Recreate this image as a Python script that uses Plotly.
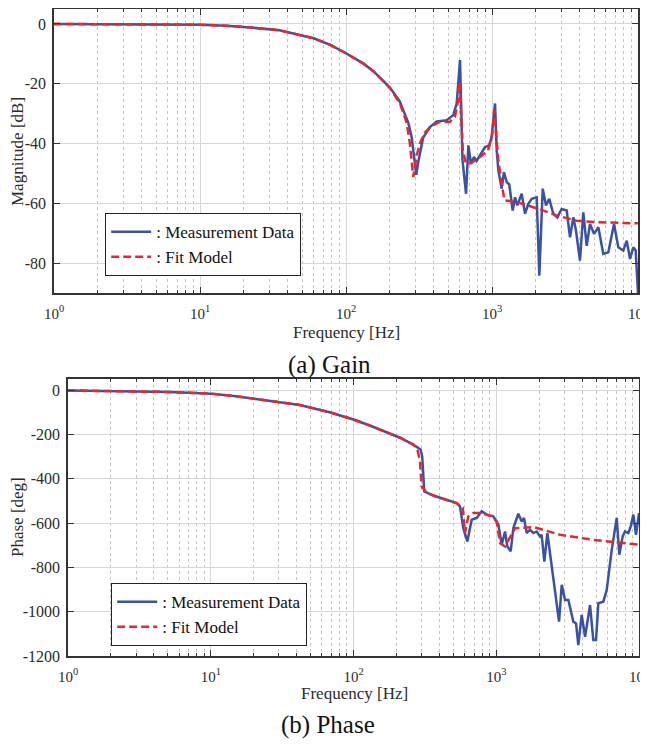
import plotly.graph_objects as go

# page is 648x744; the browser body has an 8px margin, so the figure itself is 640x736
PAGE_W, PAGE_H = 648, 744
OFF = 8
W, H = PAGE_W - OFF, PAGE_H - OFF

# ---------------- data ----------------
freq_mag_meas = [1, 2, 3, 5, 7, 10, 15, 20, 35, 60, 78, 100, 131, 154, 200, 234, 247, 267, 282, 295, 303,
                 313, 330, 338, 376, 418, 489, 543, 573, 590, 604, 615, 628, 664, 689, 718, 753, 785, 836,
                 895, 959, 995, 1049, 1077, 1105, 1165, 1208, 1261, 1313, 1386, 1438, 1490, 1597, 1683,
                 1773, 1872, 2024, 2109, 2225, 2344, 2468, 2630, 2800, 3001, 3248, 3422, 3605, 3760, 4005,
                 4220, 4453, 4691, 5000, 5350, 5786, 6263, 6852, 7334, 7930, 8370, 8816, 9290, 9640, 10000]
mag_meas = [0, -0.02, -0.05, -0.1, -0.15, -0.25, -0.6, -1.0, -2.1, -4.8, -7.0, -9.8, -13.2, -15.8, -21.3,
            -26.0, -28.9, -33.0, -38.0, -45.0, -50.5, -46.0, -39.5, -38.0, -34.5, -32.6, -32.2, -30.5,
            -26.6, -20.0, -12.1, -27.7, -45.6, -56.8, -40.6, -46.8, -44.5, -45.8, -43.4, -41.2, -40.6,
            -37.8, -26.6, -42.3, -49.0, -55.1, -49.6, -52.9, -53.7, -62.4, -58.0, -60.7, -56.8, -63.5,
            -60.2, -58.5, -58.0, -84.2, -55.1, -60.7, -58.5, -63.5, -64.7, -61.9, -62.4, -71.4, -64.7,
            -69.1, -79.2, -63.0, -74.2, -66.9, -70.2, -68.0, -76.9, -76.4, -66.9, -74.7, -75.8, -72.5,
            -78.6, -74.7, -75.8, -90.0]

freq_mag_fit = [1, 2, 3, 5, 7, 10, 15, 20, 35, 60, 78, 100, 131, 154, 200, 234, 260, 274, 283, 289, 296,
                305, 321, 345, 376, 437, 514, 556, 580, 595, 602, 612, 630, 664, 720, 827, 940, 1004, 1034,
                1060, 1105, 1186, 1218, 1480, 2132, 2777, 3800, 5200, 7000, 10000]
mag_fit = [0, -0.02, -0.05, -0.1, -0.15, -0.25, -0.6, -1.0, -2.1, -4.8, -7.0, -9.8, -13.2, -15.8, -21.5,
           -26.5, -33.0, -40.0, -47.0, -51.2, -48.0, -44.0, -40.0, -36.5, -34.5, -32.8, -32.8, -31.1, -27.0,
           -21.0, -19.5, -28.0, -42.0, -46.8, -46.5, -44.5, -42.3, -36.7, -28.9, -35.0, -45.6, -55.7, -59.0,
           -59.6, -62.0, -64.1, -65.8, -66.3, -66.5, -66.7]

freq_ph_meas = [1, 2, 3, 5, 7, 10, 15, 22, 30, 42, 68, 100, 130, 162, 212, 262, 284, 295, 303, 308, 313,
                362, 450, 528, 557, 588, 627, 673, 730, 791, 857, 954, 1035, 1092, 1152, 1196, 1262, 1318,
                1428, 1508, 1565, 1634, 1723, 1819, 1920, 2024, 2080, 2172, 2280, 2408, 2553, 2754, 2875,
                3035, 3200, 3467, 3622, 3757, 3968, 4190, 4540, 4786, 5000, 5190, 5626, 5943, 6441, 6980,
                7280, 7690, 7980, 8420, 8750, 9130, 9530, 10000]
ph_meas = [-1.5, -3.5, -5, -8.5, -12, -16, -28, -42, -53, -67, -100, -133, -160, -185, -215, -246, -261,
           -268, -300, -400, -457, -476, -494, -510, -525, -623, -683, -585, -577, -547, -562, -570, -608,
           -698, -638, -706, -728, -623, -558, -593, -577, -645, -630, -645, -638, -660, -653, -774, -645,
           -766, -872, -1045, -879, -947, -947, -1045, -1053, -1151, -1015, -1113, -970, -1128, -1128,
           -962, -955, -902, -721, -577, -743, -660, -638, -645, -615, -562, -653, -555]

freq_ph_fit = [1, 2, 3, 5, 7, 10, 15, 22, 30, 42, 68, 100, 130, 162, 212, 262, 280, 292, 300, 326, 404,
               528, 582, 604, 637, 689, 791, 929, 1007, 1062, 1150, 1352, 1820, 2797, 4790, 10000]
ph_fit = [-1.5, -3.5, -5, -8.5, -12, -16, -28, -42, -53, -67, -100, -133, -160, -185, -215, -246, -265,
          -320, -434, -464, -487, -510, -530, -645, -570, -555, -555, -570, -593, -690, -706, -623, -618,
          -653, -676, -698]

x_tickvals = [1, 10, 100, 1000, 10000]
x_ticktext = ["10<sup>0</sup>", "10<sup>1</sup>", "10<sup>2</sup>", "10<sup>3</sup>", "10<sup>4</sup>"]
x_minor_vals = [m * d for d in [1, 10, 100, 1000] for m in range(2, 10)]
mag_tickvals = [0, -20, -40, -60, -80]
mag_ticktext = ["0", "-20", "-40", "-60", "-80"]
ph_tickvals = [0, -200, -400, -600, -800, -1000, -1200]
ph_ticktext = ["0", "-200", "-400", "-600", "-800", "-1000", "-1200"]

BLUE = "#3a52a6"
RED = "#e8262b"
FONT = "Liberation Serif, Times New Roman, DejaVu Serif, serif"
TXT = "#2b2b2b"

fig = go.Figure()
fig.add_trace(go.Scatter(x=freq_mag_meas, y=mag_meas, mode="lines", name=": Measurement Data",
                         line=dict(color=BLUE, width=2.5), xaxis="x", yaxis="y", legend="legend"))
fig.add_trace(go.Scatter(x=freq_mag_fit, y=mag_fit, mode="lines", name=": Fit Model",
                         line=dict(color=RED, width=2.5, dash="8px,4px"), xaxis="x", yaxis="y", legend="legend"))
fig.add_trace(go.Scatter(x=freq_ph_meas, y=ph_meas, mode="lines", name=": Measurement Data",
                         line=dict(color=BLUE, width=2.5), xaxis="x2", yaxis="y2", legend="legend2"))
fig.add_trace(go.Scatter(x=freq_ph_fit, y=ph_fit, mode="lines", name=": Fit Model",
                         line=dict(color=RED, width=2.5, dash="8px,4px"), xaxis="x2", yaxis="y2", legend="legend2"))


def px_x(p):
    return (p - OFF) / W


def px_y(p):
    return 1 - (p - OFF) / H


common_x = dict(
    type="log", range=[0, 4], tickmode="array", tickvals=x_tickvals, ticktext=x_ticktext,
    ticks="inside", ticklen=6, tickwidth=1, tickcolor="#333333",
    showline=True, linecolor="#333333", linewidth=1.5, mirror="ticks",
    showgrid=True, gridcolor="#d6d6d6", gridwidth=1, zeroline=False, automargin=False,
    tickfont=dict(family=FONT, size=15, color=TXT), ticklabelstandoff=6,
    ticklabeloverflow="allow",
    minor=dict(tickmode="array", tickvals=x_minor_vals, ticks="inside", ticklen=3,
               tickcolor="#333333", showgrid=True, gridcolor="#c4c4c4", griddash="dot", gridwidth=1),
)
common_y = dict(
    tickmode="array", ticks="inside", ticklen=6, tickwidth=1, tickcolor="#333333",
    showline=True, linecolor="#333333", linewidth=1.5, mirror="ticks",
    showgrid=True, gridcolor="#d6d6d6", gridwidth=1, zeroline=False, automargin=False,
    tickfont=dict(family=FONT, size=16, color=TXT), ticklabelstandoff=3,
    ticklabeloverflow="allow",
)

fig.update_layout(
    width=W, height=H, margin=dict(l=0, r=0, t=0, b=0, autoexpand=False),
    paper_bgcolor="white", plot_bgcolor="white", showlegend=True,
    font=dict(family=FONT),
    xaxis=dict(common_x, domain=[px_x(54), px_x(638)], anchor="y"),
    yaxis=dict(common_y, domain=[px_y(293), px_y(9)], range=[-90, 5],
               tickvals=mag_tickvals, ticktext=mag_ticktext, anchor="x"),
    xaxis2=dict(common_x, domain=[px_x(68), px_x(639)], anchor="y2"),
    yaxis2=dict(common_y, domain=[px_y(656), px_y(379)], range=[-1200, 50],
                tickvals=ph_tickvals, ticktext=ph_ticktext, anchor="x2"),
    legend=dict(x=px_x(105), y=px_y(213), xanchor="left", yanchor="top",
                bgcolor="white", bordercolor="#222222", borderwidth=1.2,
                font=dict(family=FONT, size=17, color="#111111"), tracegroupgap=0,
                itemwidth=40),
    legend2=dict(x=px_x(111), y=px_y(583), xanchor="left", yanchor="top",
                 bgcolor="white", bordercolor="#222222", borderwidth=1.2,
                 font=dict(family=FONT, size=17, color="#111111"), tracegroupgap=0,
                 itemwidth=40),
)

ann = [
    ("Magnitude [dB]", 17, 152, 17, -90, TXT),
    ("Phase [deg]", 17, 517, 17, -90, TXT),
    ("Frequency [Hz]", 346, 332, 17, 0, TXT),
    ("Frequency [Hz]", 354, 693, 17, 0, TXT),
    ("(a) Gain", 329, 365, 25, 0, "#111111"),
    ("(b) Phase", 328, 725, 25, 0, "#111111"),
]
for text, x, y, size, ang, col in ann:
    fig.add_annotation(text=text, x=px_x(x), y=px_y(y), xref="paper", yref="paper",
                       xanchor="center", yanchor="middle", showarrow=False, textangle=ang,
                       font=dict(family=FONT, size=size, color=col))

fig.write_html("out.html")
